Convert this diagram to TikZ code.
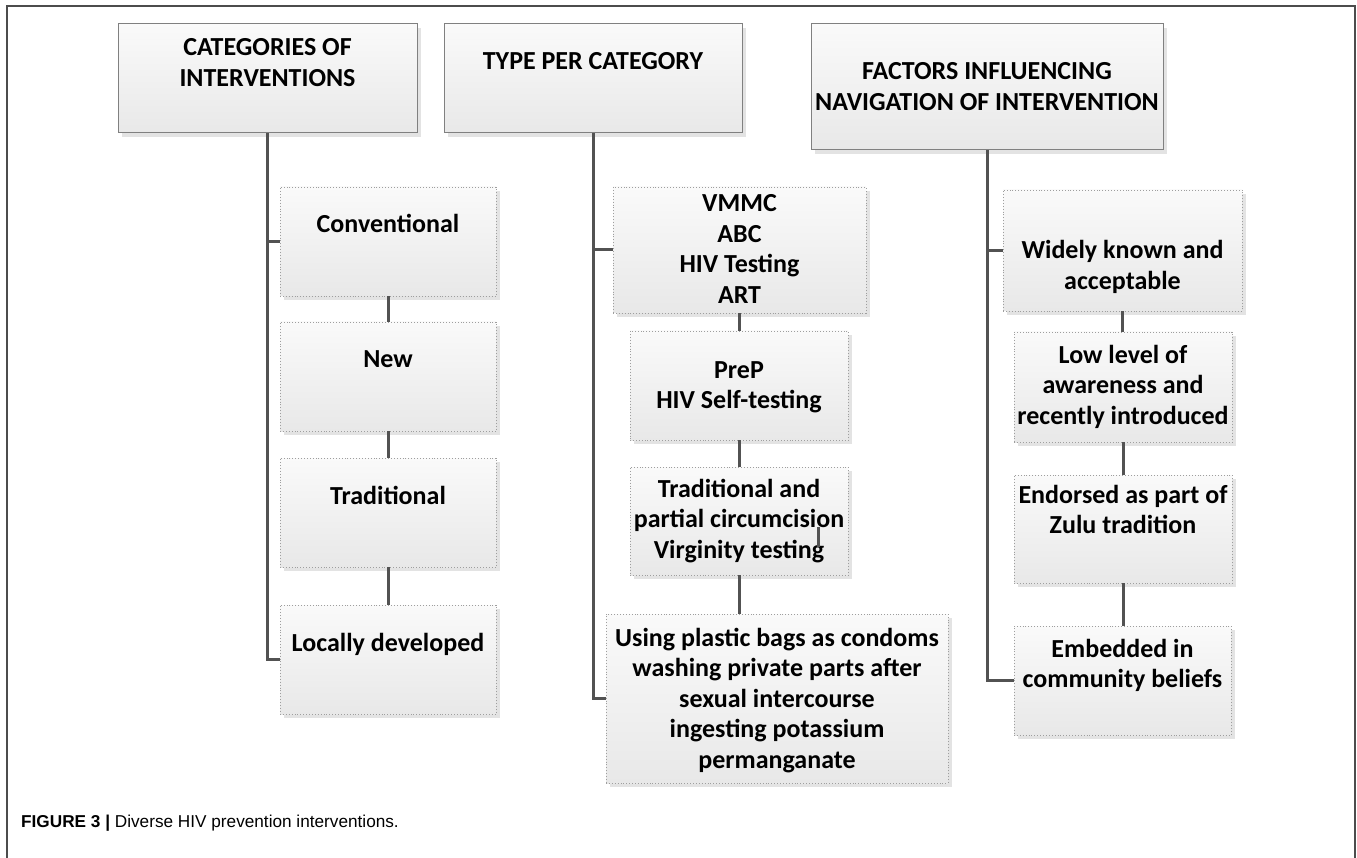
\documentclass[tikz,border=0pt]{standalone}
\usepackage{fontspec}
\setmainfont{Carlito}
\setsansfont{Liberation Sans}
\usetikzlibrary{shadows}
\newcommand{\boxtxt}[4]{\parbox[c][#2][t]{#1}{\centering\rule{0pt}{#3}#4\par}}
\begin{document}
\begin{tikzpicture}[x=1pt,y=1pt,
  boxbase/.style={inner sep=0pt, top color=white!98!black, bottom color=white!91!black,
    drop shadow={shadow xshift=4pt, shadow yshift=-4pt, fill=black!11, opacity=1},
    font=\fontsize{26pt}{30.5pt}\selectfont\bfseries},
  hdr/.style={boxbase, draw=black!50, line width=1pt},
  sub/.style={boxbase, draw=black!38, dotted, line width=0.9pt},
  link/.style={draw=black!68, line width=3pt},
  frame/.style={draw=black!70, line width=1.2pt}]
\useasboundingbox (0,0) rectangle (1357,-858);
\coordinate (fa) at (7,-858);
\coordinate (fb) at (7,-6);
\coordinate (fc) at (1355,-6);
\coordinate (fd) at (1355,-858);
\draw[frame] (fa) -- (fb) -- (fc) -- (fd);

% headers
\node[hdr] (h1) at (267.5,-78.5) {\boxtxt{299pt}{109pt}{32pt}{CATEGORIES OF\\INTERVENTIONS}};
\node[hdr] (h2) at (593,-78.5) {\boxtxt{298pt}{109pt}{46pt}{TYPE PER CATEGORY}};
\node[hdr] (h3) at (987,-87) {\boxtxt{352pt}{126pt}{56pt}{FACTORS INFLUENCING\\NAVIGATION OF INTERVENTION}};

% column 1
\node[sub] (c1) at (388,-241.5) {\boxtxt{216pt}{109pt}{46pt}{Conventional}};
\node[sub] (c2) at (388,-376.5) {\boxtxt{216pt}{109pt}{46pt}{New}};
\node[sub] (c3) at (388,-512.5) {\boxtxt{216pt}{109pt}{46pt}{Traditional}};
\node[sub] (c4) at (388,-659.5) {\boxtxt{216pt}{109pt}{46pt}{Locally developed}};

% column 2
\node[sub] (t1) at (739.5,-250) {\boxtxt{253pt}{126pt}{25pt}{VMMC\\ABC\\HIV Testing\\ART}};
\node[sub] (t2) at (739,-385.5) {\boxtxt{218pt}{109pt}{47pt}{PreP\\HIV Self-testing}};
\node[sub] (t3) at (739,-521) {\boxtxt{218pt}{108pt}{30pt}{Traditional and\\partial circumcision\\Virginity testing}};
\node[sub] (t4) at (777,-698.5) {\boxtxt{342pt}{169pt}{32pt}{Using plastic bags as condoms\\washing private parts after\\sexual intercourse\\ingesting potassium\\permanganate}};

% column 3
\node[sub] (f1) at (1122.5,-250.5) {\boxtxt{239pt}{121pt}{69pt}{Widely known and\\acceptable}};
\node[sub] (f2) at (1123,-387) {\boxtxt{218pt}{110pt}{31pt}{Low level of\\awareness and\\recently introduced}};
\node[sub] (f3) at (1123,-529) {\boxtxt{218pt}{108pt}{28pt}{Endorsed as part of\\Zulu tradition}};
\node[sub] (f4) at (1122.5,-680.5) {\boxtxt{217pt}{109pt}{31pt}{Embedded in\\community beliefs}};

% trunks
\draw[link] (h1.south) |- (c4.west);
\draw[link] (h1.south |- c1.west) -- (c1.west);
\draw[link] (h2.south) |- (t4.west);
\draw[link] (h2.south |- t1.west) -- (t1.west);
\draw[link] (h3.south) |- (f4.west);
\draw[link] (h3.south |- f1.west) -- (f1.west);

% chains
\draw[link] (c1.south) -- (c1.south |- c2.north);
\draw[link] (c2.south) -- (c2.south |- c3.north);
\draw[link] (c3.south) -- (c3.south |- c4.north);
\draw[link] (t1.south) -- (t1.south |- t2.north);
\draw[link] (t2.south) -- (t2.south |- t3.north);
\draw[link] (t3.south) -- (t3.south |- t4.north);
\draw[link] (f1.south) -- (f1.south |- f2.north);
\draw[link] (f2.south) -- (f2.south |- f3.north);
\draw[link] (f3.south) -- (f3.south |- f4.north);

% stray fragment inside t3
\coordinate (s1) at (818,-527);
\coordinate (s2) at (818,-547);
\draw[link] (s1) -- (s2);

% caption
\node[anchor=base west, inner sep=0pt, font=\sffamily\fontsize{17.2pt}{20pt}\selectfont] (cap) at (21,-827) {\textbf{FIGURE 3 |} Diverse HIV prevention interventions.};
\end{tikzpicture}
\end{document}
